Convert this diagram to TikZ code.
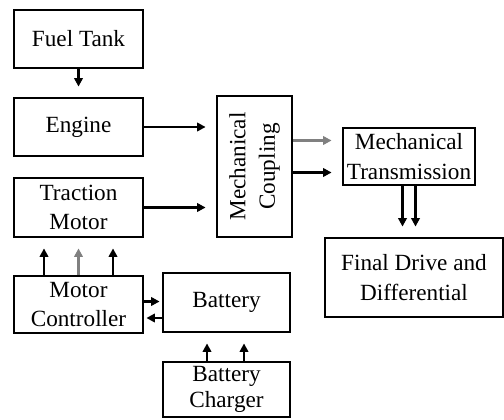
\documentclass[tikz,border=0pt]{standalone}
\usepackage{fontspec}
\setmainfont{Liberation Serif}
\usetikzlibrary{arrows.meta,calc,positioning}

\tikzset{
  blockbox/.style={draw,line width=2pt,align=center,inner sep=0pt,
    font=\fontsize{16.5}{21}\selectfont},
  flow/.style={-{Triangle[length=6pt,width=6pt]},line width=1.6pt,shorten >=0.25cm},
  greyflow/.style={flow,black!50,line width=2.2pt}
}

\begin{document}
\begin{tikzpicture}[x=0.025cm,y=-0.025cm]
  \useasboundingbox (0,0) rectangle (504,419);
  % blocks
  \node[blockbox,minimum width=3.225cm,minimum height=1.45cm] (fuel) at (78.5,39) {Fuel Tank};
  \node[blockbox,minimum width=3.225cm,minimum height=1.45cm] (engine) at (78.5,127) {Engine};
  \node[blockbox,minimum width=3.225cm,minimum height=1.475cm] (traction) at (78.5,207.5) {Traction\\Motor};
  \node[blockbox,minimum width=3.225cm,minimum height=1.425cm] (controller) at (78.5,304.5) {Motor\\Controller};
  \node[blockbox,minimum width=3.175cm,minimum height=1.475cm] (battery) at (226.5,302.5) {Battery};
  \node[blockbox,minimum width=3.175cm,minimum height=1.375cm,
    font=\fontsize{16.5}{19}\selectfont] (charger) at (226.5,389.5) {Battery\\Charger};
  \node[blockbox,minimum width=1.875cm,minimum height=3.525cm] (coupling) at (254.5,166.5) {};
  \node[align=center,rotate=90,font=\fontsize{16.5}{21}\selectfont] (couplingtext) at (coupling.center) {Mechanical\\Coupling};
  \node[blockbox,minimum width=3.3cm,minimum height=1.425cm] (transmission) at (409,156.5) {Mechanical\\Transmission};
  \node[blockbox,minimum width=4.45cm,minimum height=1.975cm] (finaldrive) at (414,277.5) {Final Drive and\\Differential};
  % connector end points
  \coordinate (tr1) at ($(transmission.west)+(0,-16)$);
  \coordinate (tr2) at ($(transmission.west)+(0,16)$);
  \coordinate (td1) at ($(transmission.south)+(-6.5,0)$);
  \coordinate (td2) at ($(transmission.south)+(6.5,0)$);
  \coordinate (mc1) at ($(controller.north)+(-34.5,0)$);
  \coordinate (mc3) at ($(controller.north)+(34.5,0)$);
  \coordinate (cb1) at ($(controller.east)+(0,-3)$);
  \coordinate (cb2) at ($(battery.west)+(0,15.5)$);
  \coordinate (bc1) at ($(charger.north)+(-19.5,0)$);
  \coordinate (bc2) at ($(charger.north)+(17.5,0)$);
  % connectors
  \draw[flow] (fuel.south) -- (engine.north);
  \draw[flow] (engine.east) -- (engine.east -| coupling.west);
  \draw[flow] (traction.east) -- (traction.east -| coupling.west);
  \draw[greyflow,line width=1.8pt] (tr1 -| coupling.east) -- (tr1);
  \draw[flow] (tr2 -| coupling.east) -- (tr2);
  \draw[flow] (td1) -- (td1 |- finaldrive.north);
  \draw[flow] (td2) -- (td2 |- finaldrive.north);
  % controller to motor
  \draw[flow] (mc1) -- (mc1 |- traction.south);
  \draw[greyflow] (controller.north) -- (traction.south);
  \draw[flow] (mc3) -- (mc3 |- traction.south);
  % controller and battery
  \draw[flow,shorten >=0.05cm] (cb1) -- (cb1 -| battery.west);
  \draw[flow,shorten >=0.05cm] (cb2) -- (cb2 -| controller.east);
  % charger to battery
  \draw[flow] (bc1) -- (bc1 |- battery.south);
  \draw[flow] (bc2) -- (bc2 |- battery.south);
\end{tikzpicture}
\end{document}
